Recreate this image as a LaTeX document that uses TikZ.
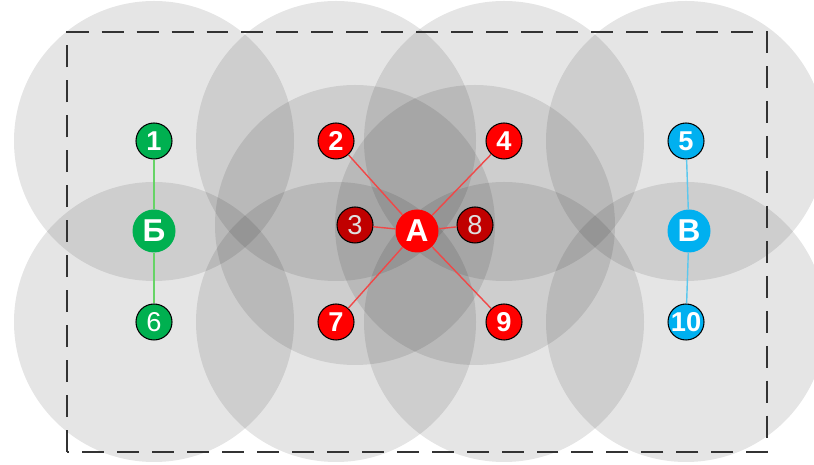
\documentclass[tikz,border=0pt]{standalone}
\usepackage{fontspec}
\setmainfont{Liberation Sans}
\definecolor{cellred}{HTML}{FF0000}
\definecolor{celldark}{HTML}{C00000}
\definecolor{cellgreen}{HTML}{00B050}
\definecolor{cellblue}{HTML}{00B0F0}
\definecolor{linkred}{HTML}{F04848}
\definecolor{linkgreen}{HTML}{66D466}
\definecolor{linkblue}{HTML}{5CC8EE}

\begin{document}
\begin{tikzpicture}[
    cover/.style={fill=black,fill opacity=0.1},
    station/.style={circle,draw=black,line width=0.6pt,minimum size=0.72cm,inner sep=0pt,text=white,font=\bfseries\fontsize{15.5}{16}\selectfont},
    hub/.style={circle,minimum size=0.86cm,inner sep=0pt,text=white,font=\bfseries\fontsize{18}{18}\selectfont},
    link/.style={line width=0.8pt}
]
    \useasboundingbox (0,0) rectangle (16.28,9.3);
    % Positions of the stations
    \coordinate (p1) at (3.08,6.48);
    \coordinate (p2) at (6.72,6.48);
    \coordinate (p4) at (10.08,6.48);
    \coordinate (p5) at (13.72,6.48);
    \coordinate (p3) at (7.10,4.80);
    \coordinate (p8) at (9.50,4.80);
    \coordinate (p6) at (3.08,2.86);
    \coordinate (p7) at (6.72,2.86);
    \coordinate (p9) at (10.08,2.86);
    \coordinate (p10) at (13.72,2.86);
    % Draw the coverage areas
    \fill[cover] (p1) circle (2.8);
    \fill[cover] (p2) circle (2.8);
    \fill[cover] (p4) circle (2.8);
    \fill[cover] (p5) circle (2.8);
    \fill[cover] (p3) circle (2.8);
    \fill[cover] (p8) circle (2.8);
    \fill[cover] (p6) circle (2.8);
    \fill[cover] (p7) circle (2.8);
    \fill[cover] (p9) circle (2.8);
    \fill[cover] (p10) circle (2.8);
    % Draw the border
    \draw[line width=1.1pt,dash pattern=on 12.5pt off 7.4pt,black!80] (1.34,0.26) rectangle (15.34,8.66);
    % Add the stations
    \node[station,fill=cellgreen] (n1) at (p1) {1};
    \node[station,fill=cellred] (n2) at (p2) {2};
    \node[station,fill=cellred] (n4) at (p4) {4};
    \node[station,fill=cellblue] (n5) at (p5) {5};
    \node[station,fill=celldark,text=black!12,font=\fontsize{15.5}{16}\selectfont] (n3) at (p3) {3};
    \node[station,fill=celldark,text=black!12,font=\fontsize{15.5}{16}\selectfont] (n8) at (p8) {8};
    \node[station,fill=cellgreen,font=\fontsize{15.5}{16}\selectfont] (n6) at (p6) {6};
    \node[station,fill=cellred] (n7) at (p7) {7};
    \node[station,fill=cellred] (n9) at (p9) {9};
    \node[station,fill=cellblue] (n10) at (p10) {10};
    \node[hub,fill=cellgreen] (hubB) at (3.08,4.68) {Б};
    \node[hub,fill=cellred] (hubA) at (8.34,4.68) {A};
    \node[hub,fill=cellblue] (hubV) at (13.78,4.68) {В};
    % Draw the links
    \draw[link,linkred] (hubA) -- (n2);
    \draw[link,linkred] (hubA) -- (n4);
    \draw[link,linkred] (hubA) -- (n3);
    \draw[link,linkred] (hubA) -- (n8);
    \draw[link,linkred] (hubA) -- (n7);
    \draw[link,linkred] (hubA) -- (n9);
    \draw[link,linkgreen] (hubB) -- (n1);
    \draw[link,linkgreen] (hubB) -- (n6);
    \draw[link,linkblue] (hubV) -- (n5);
    \draw[link,linkblue] (hubV) -- (n10);
\end{tikzpicture}
\end{document}
